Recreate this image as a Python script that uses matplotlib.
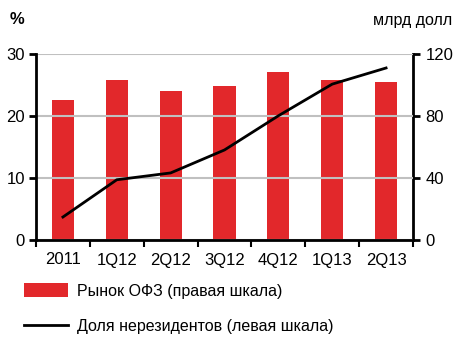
import matplotlib.pyplot as plt
import numpy as np

plt.rcParams['font.family'] = ['Liberation Sans', 'DejaVu Sans']

periods = ['2011', '1Q12', '2Q12', '3Q12', '4Q12', '1Q13', '2Q13']
ofz_market = [90, 103, 96, 99, 108, 103, 102]          # right scale, bn USD
nonres_share = [3.7, 9.7, 10.8, 14.5, 20.0, 25.1, 27.7]  # left scale, %

red = '#e2282b'

fig = plt.figure(figsize=(4.58, 3.56), dpi=100)
ax = fig.add_axes([36 / 458, 1 - 240 / 356, (413 - 36) / 458, (240 - 53.7) / 356])
ax2 = ax.twinx()

x = np.arange(len(periods))
bars = ax2.bar(x, ofz_market, width=0.41, color=red, zorder=2)
ax2.set_ylim(0, 120)
ax2.set_yticks([0, 40, 80, 120])

ax.set_ylim(0, 30)
ax.set_yticks([0, 10, 20, 30])
ax.set_xlim(-0.5, len(periods) - 0.5)
ax.set_xticks(x)
ax.set_xticklabels(periods)
ax.set_xticks(np.arange(len(periods) + 1) - 0.5, minor=True)
ax.grid(axis='y', color='#c0c0c0', linewidth=1.5, zorder=0)
ax.set_axisbelow(True)

# line on the left axis should sit above the bars
ax.set_zorder(ax2.get_zorder() + 1)
ax.patch.set_visible(False)
line, = ax.plot(x, nonres_share, color='black', linewidth=2, zorder=3)

for a in (ax, ax2):
    a.spines['top'].set_visible(False)
    for s in a.spines.values():
        s.set_linewidth(2)
ax2.spines['left'].set_visible(False)
ax2.spines['bottom'].set_visible(False)
ax.spines['right'].set_visible(False)

ax.tick_params(axis='y', length=5, width=2, labelsize=12, pad=3)
ax2.tick_params(axis='y', length=5, width=2, labelsize=12, pad=4)
ax.tick_params(axis='x', which='major', length=0, labelsize=12, pad=9)
ax.tick_params(axis='x', which='minor', length=5, width=1.5)

fig.text(10 / 458, 1 - 20 / 356, '%', fontsize=12, fontweight='bold', ha='left', va='center')
fig.text(452 / 458, 1 - 20 / 356, 'млрд долл', fontsize=11.5, ha='right', va='center')

fig.legend([bars, line],
           ['Рынок ОФЗ (правая шкала)', 'Доля нерезидентов (левая шкала)'],
           loc='upper left', bbox_to_anchor=(10 / 458, 1 - 269 / 356),
           frameon=False, fontsize=11.5, handlelength=2.75, handleheight=0.9,
           labelspacing=1.3, handletextpad=0.55)

fig.savefig('out.png', dpi=100)
